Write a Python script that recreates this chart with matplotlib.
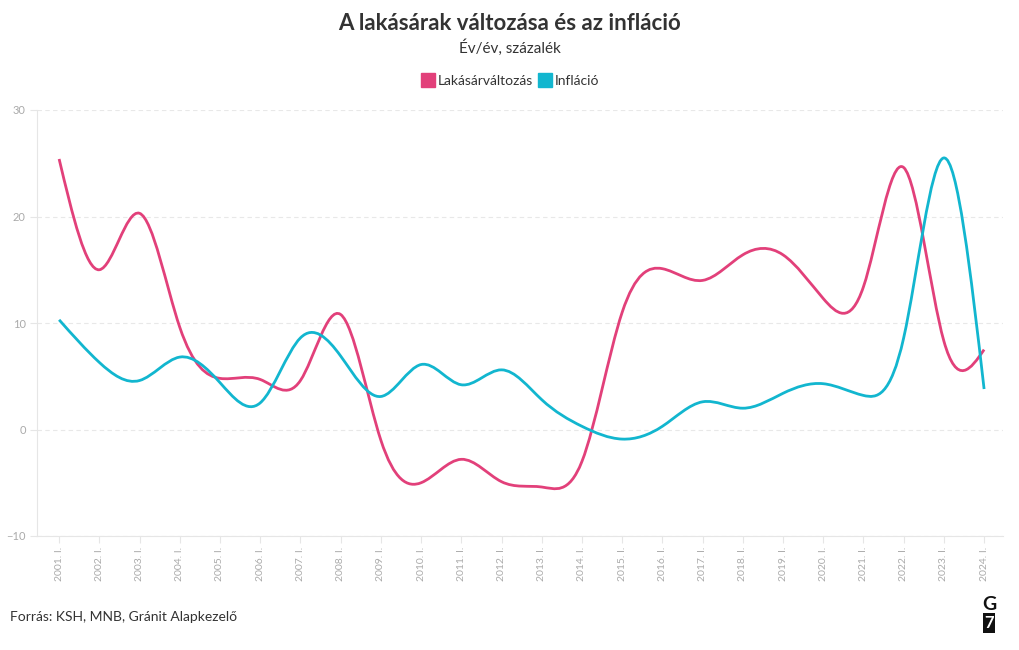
import matplotlib
matplotlib.use("Agg")
import matplotlib.pyplot as plt
import numpy as np
from matplotlib.path import Path
from matplotlib.patches import PathPatch
from matplotlib.lines import Line2D

plt.rcParams['font.family'] = ['Lato', 'DejaVu Sans']

# Data (year-on-year change, %, first quarter of each year)
years = list(range(2001, 2025))
tick_labels = [f"{y}. I." for y in years]
lakasar = [25.4, 15.0, 20.3, 9.6, 4.8, 4.7, 4.6, 10.8, -1.0, -5.0, -2.8, -4.9,
           -5.4, -3.0, 11.0, 15.1, 14.0, 16.4, 16.4, 12.3, 13.4, 24.6, 8.3, 7.5]
inflacio = [10.3, 6.3, 4.6, 6.8, 4.4, 2.5, 8.6, 6.9, 3.1, 6.1, 4.2, 5.6,
            2.8, 0.3, -0.9, 0.3, 2.6, 2.0, 3.4, 4.3, 3.2, 8.6, 25.5, 3.8]

PINK = "#e2407a"
CYAN = "#12b6cf"


def spline_path(ys):
    """Natural cubic spline through the points (unit spacing), as Bezier segments."""
    y = np.asarray(ys, dtype=float)
    n = len(y)
    A = np.zeros((n, n))
    b = np.zeros(n)
    A[0, 0] = A[-1, -1] = 1
    for i in range(1, n - 1):
        A[i, i - 1], A[i, i], A[i, i + 1] = 1, 4, 1
        b[i] = 6 * (y[i + 1] - 2 * y[i] + y[i - 1])
    M = np.linalg.solve(A, b)
    m = np.empty(n)
    m[:-1] = (y[1:] - y[:-1]) - (2 * M[:-1] + M[1:]) / 6
    m[-1] = (y[-1] - y[-2]) + (M[-2] + 2 * M[-1]) / 6
    verts = [(0, y[0])]
    codes = [Path.MOVETO]
    for i in range(n - 1):
        verts += [(i + 1 / 3, y[i] + m[i] / 3), (i + 2 / 3, y[i + 1] - m[i + 1] / 3), (i + 1, y[i + 1])]
        codes += [Path.CURVE4] * 3
    return Path(verts, codes)


fig = plt.figure(figsize=(10.2, 6.5), dpi=100)
ax = fig.add_axes([37 / 1020, 1 - 536 / 650, (1003 - 37) / 1020, (536 - 110) / 650])

xs = list(range(len(years)))
for vals, col in [(lakasar, PINK), (inflacio, CYAN)]:
    ax.add_patch(PathPatch(spline_path(vals), facecolor="none", edgecolor=col,
                           lw=2.0, capstyle="butt", joinstyle="round", zorder=3))

ax.set_xlim(-0.55, 23.47)
ax.set_ylim(-10, 30)
ax.set_yticks([-10, 0, 10, 20, 30])
ax.set_xticks(xs)
ax.set_xticklabels(tick_labels, rotation=90, fontsize=7.5, color="#aaaaaa")
ax.tick_params(axis="y", labelsize=8, labelcolor="#aaaaaa", color="#e6e6e6", length=5, width=0.8, pad=3)
ax.tick_params(axis="x", color="#e6e6e6", length=5, width=0.8, pad=3)
ax.grid(axis="y", color="#e8e8e8", linestyle=(0, (4, 3)), lw=0.8)
for s in ["top", "right"]:
    ax.spines[s].set_visible(False)
for s in ["left", "bottom"]:
    ax.spines[s].set_color("#e6e6e6")
    ax.spines[s].set_linewidth(0.8)

fig.text(0.5, 1 - 24 / 650, "A lakásárak változása és az infláció", ha="center", va="center",
         fontsize=16, fontweight="bold", color="#333333")
fig.text(0.5, 1 - 48 / 650, "Év/év, százalék", ha="center", va="center", fontsize=11, color="#333333")

handles = [Line2D([], [], ls="none", marker="s", markersize=10, markerfacecolor=PINK, markeredgecolor=PINK),
           Line2D([], [], ls="none", marker="s", markersize=10, markerfacecolor=CYAN, markeredgecolor=CYAN)]
fig.legend(handles, ["Lakásárváltozás", "Infláció"], loc="center", bbox_to_anchor=(0.5, 1 - 81 / 650),
           ncol=2, frameon=False, fontsize=10, handletextpad=0.2, columnspacing=0.4,
           handlelength=1.0, labelcolor="#333333")

fig.text(10 / 1020, 1 - 617 / 650, "Forrás: KSH, MNB, Gránit Alapkezelő", ha="left", va="center",
         fontsize=10, color="#333333")
fig.text(989 / 1020, 1 - 605 / 650, "G", ha="center", va="center", fontsize=14, fontweight="bold", color="#111111")
fig.text(989 / 1020, 1 - 623 / 650, "7", ha="center", va="center", fontsize=12, fontweight="bold", color="white",
         bbox=dict(boxstyle="square,pad=0.1", fc="#111111", ec="none"))

fig.savefig("out.png", dpi=100)
